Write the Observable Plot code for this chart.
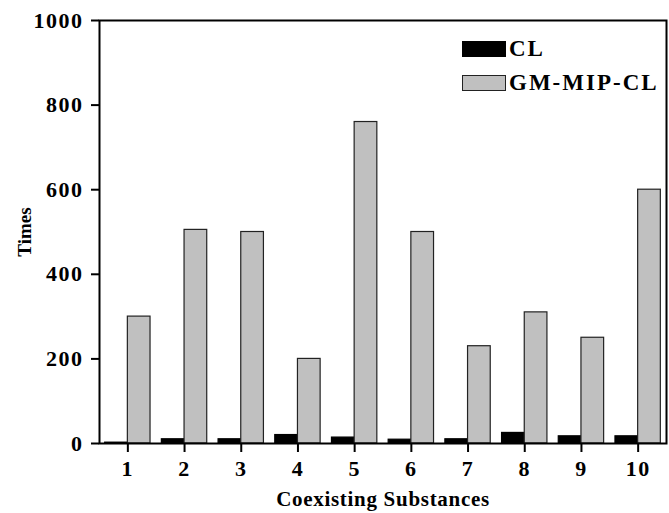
<!DOCTYPE html>
<html>
<head>
<meta charset="utf-8">
<script src="https://cdn.jsdelivr.net/npm/d3@7"></script>
<script src="https://cdn.jsdelivr.net/npm/@observablehq/plot@0.6"></script>
<style>
  html, body { margin: 0; padding: 0; background: #fff; }
  #wrap { position: relative; width: 669px; height: 513px; }
  .legend { position: absolute; left: 462px; top: 32px; font-family: "Liberation Serif", "Times New Roman", serif; font-weight: bold; font-size: 23px; letter-spacing: 2px; color: #000; }
  .legend .row { display: flex; align-items: center; height: 34px; }
  .legend .sw { width: 44px; height: 16px; box-sizing: border-box; margin-right: 3px; }
</style>
</head>
<body>
<div id="wrap"></div>
<script>
const substances = [1, 2, 3, 4, 5, 6, 7, 8, 9, 10];
const clTimes = [2, 10, 10, 20, 14, 9, 10, 25, 17, 17];
const gmTimes = [300, 505, 500, 200, 760, 500, 230, 310, 250, 600];
const seriesNames = ["CL", "GM-MIP-CL"];
const seriesFills = ["#000000", "#c0c0c0"];
const yTicks = [0, 200, 400, 600, 800, 1000];

const rows = substances.flatMap((s, i) => [
  {sub: s, series: seriesNames[0], value: clTimes[i], k: 0},
  {sub: s, series: seriesNames[1], value: gmTimes[i], k: 1}
]);
const barW = 0.4;

const chart = Plot.plot({
  width: 669,
  height: 513,
  marginLeft: 99,
  marginRight: 3,
  marginTop: 20,
  marginBottom: 70,
  style: {fontFamily: "'Liberation Serif', 'Times New Roman', serif", fontWeight: "bold", fontSize: "22px", color: "#000", background: "#fff"},
  x: {domain: [0.5, 10.5], ticks: substances, tickFormat: d => String(d), tickSize: 9, tickPadding: 8, label: "Coexisting Substances", labelAnchor: "center", labelOffset: 62, labelArrow: "none"},
  y: {domain: [0, 1000], ticks: yTicks, tickFormat: d => String(d), tickSize: 8, tickPadding: 8, label: "Times", labelAnchor: "center", labelOffset: 82, labelArrow: "none"},
  marks: [
    Plot.rectY(rows, {
      x1: d => d.sub - barW + d.k * barW,
      x2: d => d.sub + d.k * barW,
      y: "value",
      fill: d => seriesFills[d.k],
      stroke: d => d.k === 1 ? "#222" : "#000",
      strokeWidth: 1.2
    }),
    Plot.frame({stroke: "#000", strokeWidth: 2})
  ]
});

const wrap = document.getElementById("wrap");
wrap.appendChild(chart);

const sel = d3.select(chart);
sel.selectAll("text").each(function() {
  const t = this.textContent.trim();
  this.setAttribute("fill", "#000");
  if (t === "Times") { this.style.fontSize = "19px"; }
  else if (t === "Coexisting Substances") { this.style.fontSize = "21px"; this.style.letterSpacing = "0.7px"; }
  else if (/^\d+$/.test(t)) { this.style.letterSpacing = "1.5px"; }
});
// thicker tick marks like the reference
sel.selectAll("g[aria-label*='tick'] path, g[aria-label*='axis'] line, g[aria-label*='axis'] path").attr("stroke-width", 2).attr("stroke", "#000");

const legend = document.createElement("div");
legend.className = "legend";
seriesNames.forEach((name, i) => {
  const row = document.createElement("div");
  row.className = "row";
  const sw = document.createElement("div");
  sw.className = "sw";
  sw.style.background = seriesFills[i];
  sw.style.border = i === 1 ? "1px solid #222" : "1px solid #000";
  const t = document.createElement("span");
  t.textContent = name;
  row.appendChild(sw);
  row.appendChild(t);
  legend.appendChild(row);
});
wrap.appendChild(legend);
</script>
</body>
</html>
